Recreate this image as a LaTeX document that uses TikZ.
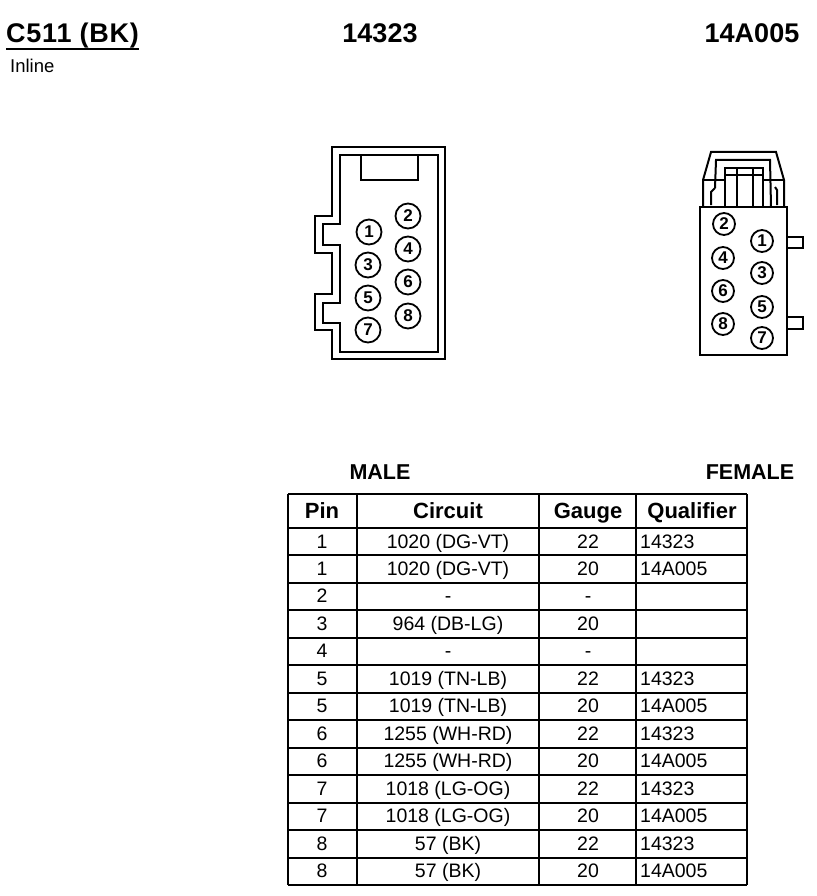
\documentclass[tikz,border=0pt]{standalone}
\usepackage{fontspec}
\setmainfont{Liberation Sans}
\tikzstyle{title}=[inner sep=0pt,anchor=base,font=\fontsize{27}{27}\selectfont\bfseries]
\tikzstyle{side label}=[inner sep=0pt,anchor=base,font=\fontsize{21.5}{21.5}\selectfont\bfseries]
\tikzstyle{head cell}=[inner sep=0pt,anchor=base,font=\fontsize{22}{22}\selectfont\bfseries]
\tikzstyle{cell}=[inner sep=0pt,anchor=base,font=\fontsize{19.5}{19.5}\selectfont]
\tikzstyle{qualifier cell}=[cell,anchor=base west]
\tikzstyle{male pin}=[circle,draw,line width=1.8pt,minimum size=25pt,inner sep=0pt,font=\fontsize{17}{17}\selectfont\bfseries]
\tikzstyle{female pin}=[male pin,minimum size=22pt]
\tikzstyle{shell}=[draw,line width=2pt,line join=miter]
\tikzstyle{rule}=[draw,line width=2pt]

\begin{document}
\begin{tikzpicture}[x=1pt,y=-1pt]
    \useasboundingbox (0,0) rectangle (816,896);

    % First we draw the headings
    \node[title,anchor=base west] (name) at (6,43) {\addfontfeature{LetterSpace=2.8}C511 (BK)};
    \path[rule] (name.south west) -- (name.south east);
    \node[inner sep=0pt,anchor=base west,font=\fontsize{18.5}{18.5}\selectfont] (kind) at (10,73) {Inline};
    \node[title] (male part) at (380,43) {14323};
    \node[title] (female part) at (752,43) {14A005};
    \node[side label] (male) at (380,479) {MALE};
    \node[side label] (female) at (750,479) {FEMALE};

    % Male connector shell
    \path[shell] (332,147) -- (445,147) -- (445,359) -- (332,359) -- (332,330) -- (315,330) -- (315,294)
        -- (332,294) -- (332,253) -- (315,253) -- (315,216) -- (332,216) -- cycle;
    \path[shell] (340,155) -- (438,155) -- (438,352) -- (340,352) -- (340,323) -- (323,323) -- (323,303)
        -- (340,303) -- (340,245) -- (323,245) -- (323,224) -- (340,224) -- cycle;
    \path[shell] (361,155) -- (361,180) -- (418,180) -- (418,155);

    \foreach \pos/\name in {{(369,232)/1}, {(368,265)/3}, {(368,298)/5}, {(368,330)/7}, {(408,216)/2}, {(408,249)/4}, {(408,282)/6}, {(408,316)/8}}
        \node[male pin] (m\name) at \pos {\name};

    % Female connector body and latch
    \path[shell] (700,207) rectangle (787,355);
    \path[shell] (787,237) -- (803,237) -- (803,248) -- (787,248);
    \path[shell] (787,317) -- (803,317) -- (803,329) -- (787,329);
    \path[shell] (703,207) -- (703,180) -- (711,152) -- (776,152) -- (784,180) -- (784,207);
    \path[shell] (703,180) -- (725,180);
    \path[shell] (763,180) -- (784,180);
    \path[shell] (715,188) -- (716,160) -- (770,160) -- (771,207);
    \path[shell] (725,207) -- (725,168) -- (763,168) -- (763,207);
    \path[shell] (725,175) -- (763,175);
    \path[shell] (737,168) -- (737,207);
    \path[shell] (753,168) -- (753,207);
    \path[shell] (711,205) -- (711,192) -- (715,188);
    \path[shell] (775,187) -- (777,190) -- (777,205);

    \foreach \pos/\name in {{(724,224)/2}, {(723,258)/4}, {(723,291)/6}, {(723,324)/8}, {(762,241)/1}, {(762,273)/3}, {(762,307)/5}, {(762,338)/7}}
        \node[female pin] (f\name) at \pos {\name};

    % Table rules
    \foreach \y in {494,528,555,583,610,638,665,693,720,748,775,803,830,858,885}
        \path[rule] (288,\y) -- (747,\y);
    \foreach \x in {288,357,539,636,747}
        \path[rule] (\x,494) -- (\x,885);

    % Table header
    \foreach \x/\name in {322/Pin, 448/Circuit, 588/Gauge, 692/Qualifier}
        \node[head cell] (head \name) at (\x,518) {\name};

    % Table columns, one row every 27.46
    \foreach \row/\pin in {1/1, 2/1, 3/2, 4/3, 5/4, 6/5, 7/5, 8/6, 9/6, 10/7, 11/7, 12/8, 13/8}
        \node[cell] (pin \row) at (322,{548+27.46*(\row-1)}) {\pin};
    \foreach \row/\wire in {1/1020 (DG-VT), 2/1020 (DG-VT), 3/-, 4/964 (DB-LG), 5/-, 6/1019 (TN-LB), 7/1019 (TN-LB), 8/1255 (WH-RD), 9/1255 (WH-RD), 10/1018 (LG-OG), 11/1018 (LG-OG), 12/57 (BK), 13/57 (BK)}
        \node[cell] (circuit \row) at (448,{548+27.46*(\row-1)}) {\wire};
    \foreach \row/\gauge in {1/22, 2/20, 3/-, 4/20, 5/-, 6/22, 7/20, 8/22, 9/20, 10/22, 11/20, 12/22, 13/20}
        \node[cell] (gauge \row) at (588,{548+27.46*(\row-1)}) {\gauge};
    \foreach \row/\part in {1/14323, 2/14A005, 6/14323, 7/14A005, 8/14323, 9/14A005, 10/14323, 11/14A005, 12/14323, 13/14A005}
        \node[qualifier cell] (qualifier \row) at (640,{548+27.46*(\row-1)}) {\part};
\end{tikzpicture}
\end{document}
